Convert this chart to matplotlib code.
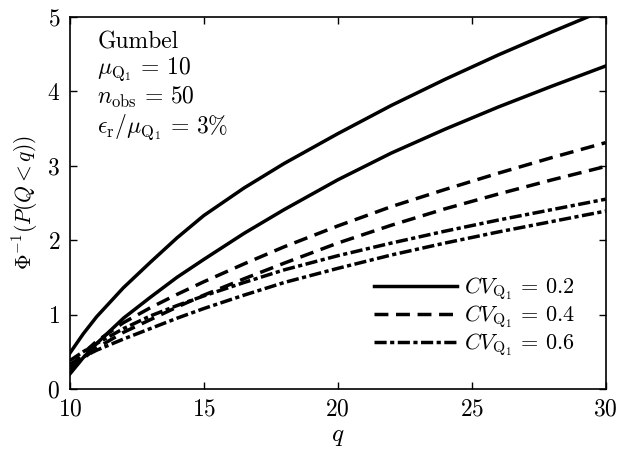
import matplotlib
matplotlib.use("Agg")
import matplotlib.pyplot as plt

plt.rcParams['font.family'] = 'serif'
plt.rcParams['font.serif'] = ['cmr10', 'DejaVu Serif']
plt.rcParams['mathtext.fontset'] = 'cm'
plt.rcParams['axes.formatter.use_mathtext'] = True
plt.rcParams['axes.unicode_minus'] = False

# Data
q = [10, 10.5, 11, 12, 13, 14, 15, 16.5, 18, 20, 22, 24, 26, 28, 30]

solid_hi = [0.48, 0.74, 0.97, 1.36, 1.70, 2.03, 2.33, 2.70, 3.03, 3.43, 3.81, 4.16, 4.49, 4.80, 5.10]
solid_lo = [0.20, 0.42, 0.61, 0.95, 1.23, 1.50, 1.74, 2.09, 2.41, 2.81, 3.17, 3.49, 3.79, 4.07, 4.34]
dash_hi = [0.30, 0.48, 0.64, 0.89, 1.09, 1.27, 1.44, 1.68, 1.91, 2.19, 2.45, 2.68, 2.90, 3.11, 3.31]
dash_lo = [0.25, 0.41, 0.55, 0.76, 0.93, 1.10, 1.26, 1.48, 1.69, 1.96, 2.20, 2.42, 2.62, 2.81, 2.99]
dd_hi = [0.38, 0.50, 0.61, 0.81, 0.98, 1.12, 1.25, 1.43, 1.60, 1.79, 1.96, 2.12, 2.27, 2.41, 2.55]
dd_lo = [0.33, 0.43, 0.52, 0.67, 0.81, 0.95, 1.08, 1.26, 1.43, 1.62, 1.80, 1.96, 2.11, 2.25, 2.39]

labels = [r'$CV_{\mathrm{Q}_1}\,=\,0.2$', r'$CV_{\mathrm{Q}_1}\,=\,0.4$', r'$CV_{\mathrm{Q}_1}\,=\,0.6$']

fig = plt.figure(figsize=(6.18, 4.57), dpi=100)
ax = fig.add_axes([0.113, 0.149, 0.867, 0.814])

lw = 2.5
dash = (4, 2.2)
dashdot = (3.5, 1.0, 1.2, 1.0)
l1, = ax.plot(q, solid_hi, color='black', lw=lw, label=labels[0])
ax.plot(q, solid_lo, color='black', lw=lw)
l2, = ax.plot(q, dash_hi, color='black', lw=lw, dashes=dash, label=labels[1])
ax.plot(q, dash_lo, color='black', lw=lw, dashes=dash)
l3, = ax.plot(q, dd_hi, color='black', lw=lw, dashes=dashdot, label=labels[2])
ax.plot(q, dd_lo, color='black', lw=lw, dashes=dashdot)

ax.set_xlim(10, 30)
ax.set_ylim(0, 5)
ax.set_xticks([10, 15, 20, 25, 30])
ax.set_yticks([0, 1, 2, 3, 4, 5])
ax.tick_params(direction='in', top=True, right=True, length=5, width=1, labelsize=17, pad=7)
for s in ax.spines.values():
    s.set_linewidth(1.2)

ax.set_xlabel(r'$q$', fontsize=18, labelpad=4)
ax.set_ylabel(r'$\Phi^{-1}(P(Q<q))$', fontsize=15.5)
ax.yaxis.set_label_coords(-0.056, 0.5)

ax.text(0.051, 0.96,
        "Gumbel\n" + r"$\mu_{\mathrm{Q}_1}\,=\,10$" + "\n" + r"$n_{\mathrm{obs}}\,=\,50$" + "\n"
        + r"$\epsilon_{\mathrm{r}}/\mu_{\mathrm{Q}_1}\,=\,3\%$",
        transform=ax.transAxes, ha='left', va='top', fontsize=17, linespacing=1.1)

ax.legend(handles=[l1, l2, l3], loc='lower right', bbox_to_anchor=(0.942, 0.082),
          frameon=False, fontsize=16, handlelength=3.74, handletextpad=0.3,
          labelspacing=0.05, borderaxespad=0, borderpad=0)

fig.savefig('out.png', dpi=100)
